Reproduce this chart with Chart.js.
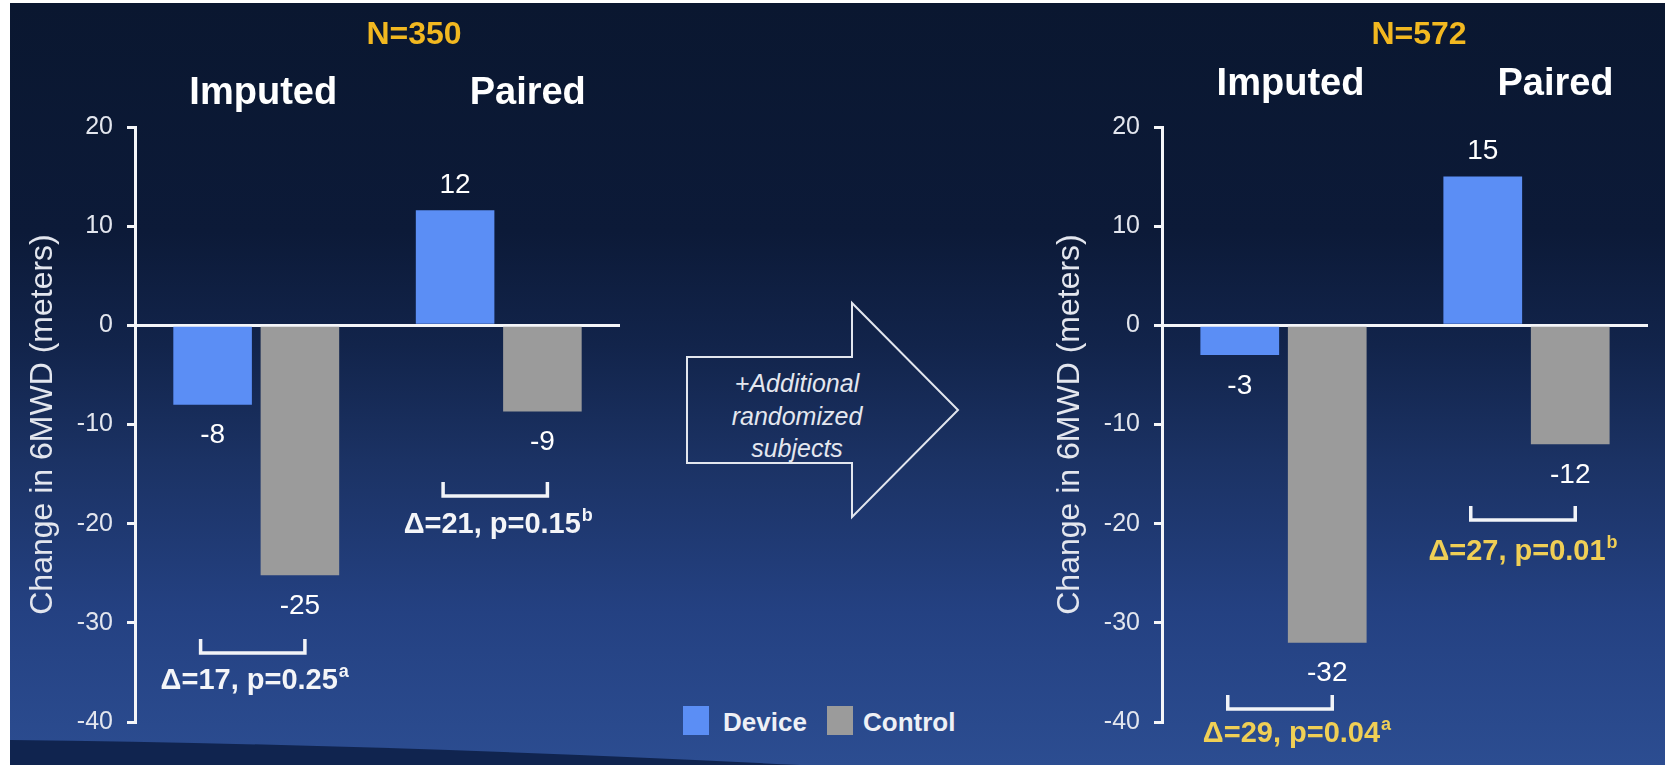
<!DOCTYPE html>
<html lang="en">
<head>
<meta charset="UTF-8">
<title>Change in 6MWD</title>
<script src="https://cdn.jsdelivr.net/npm/chart.js"></script>
<style>
  html, body { margin: 0; padding: 0; }
  body { width: 1665px; height: 765px; position: relative; overflow: hidden; background: #fff;
         font-family: "Liberation Sans", Arial, sans-serif; }
  #bg { position: absolute; left: 0; top: 0; }
  canvas { position: absolute; top: 0; }
  #leftChart { left: 0; }
  #rightChart { left: 1027px; }
  .arrowText { position: absolute; left: 697px; top: 367px; width: 200px; text-align: center;
               color: #e4e7ef; font-style: italic; font-size: 25px; line-height: 32.5px; }
  .swatch { position: absolute; top: 706px; width: 26px; height: 29px; }
  .legText { position: absolute; top: 707px; color: #eef0f6; font-weight: bold; font-size: 26px; line-height: 30px; }
</style>
</head>
<body>
<svg id="bg" width="1665" height="765">
  <defs>
    <linearGradient id="sky" x1="0" y1="0" x2="0" y2="1">
      <stop offset="0" stop-color="#0a1730"/>
      <stop offset="0.3" stop-color="#0c1a38"/>
      <stop offset="0.45" stop-color="#12244b"/>
      <stop offset="0.6" stop-color="#1b3264"/>
      <stop offset="0.8" stop-color="#244182"/>
      <stop offset="1" stop-color="#2c4d91"/>
    </linearGradient>
  </defs>
  <rect x="10" y="3" width="1655" height="762" fill="url(#sky)"/>
  <path d="M10,740 Q380,744 800,765 L10,765 Z" fill="#10244f"/>
  <polygon points="687,357 852,357 852,303 958,410 852,517 852,463 687,463"
           fill="none" stroke="#e2e6ee" stroke-width="2"/>
</svg>

<canvas id="leftChart" width="640" height="765"></canvas>
<canvas id="rightChart" width="638" height="765"></canvas>

<div class="arrowText">+Additional<br>randomized<br>subjects</div>

<div class="swatch" style="left:683px; background:#5b8ef5;"></div>
<div class="legText" style="left:723px;">Device</div>
<div class="swatch" style="left:827px; background:#9b9b9b;"></div>
<div class="legText" style="left:863px;">Control</div>

<script>
// groups on each panel
const categories = ['Imputed', 'Paired'];

// N=350 panel
const leftDevice = [-8, 11.6];
const leftControl = [-25.2, -8.7];
const leftDeviceLabels = ['-8', '12'];
const leftControlLabels = ['-25', '-9'];
const leftDiffs = ['Δ=17, p=0.25', 'Δ=21, p=0.15'];

// N=572 panel
const rightDevice = [-3, 15];
const rightControl = [-32, -12];
const rightDeviceLabels = ['-3', '15'];
const rightControlLabels = ['-32', '-12'];
const rightDiffs = ['Δ=29, p=0.04', 'Δ=27, p=0.01'];

const diffNotes = ['a', 'b'];
const yMin = -40, yMax = 20, yStep = 10;

const FONT = '"Liberation Sans", Arial, sans-serif';
const DEVICE_COLOR = '#5b8ef5';
const CONTROL_COLOR = '#9b9b9b';
const GOLD = '#f2b820';

// labels, headings, brackets and p-values drawn on top of the bars
const annotate = {
  id: 'annotate',
  afterDraw(chart, args, opts) {
    const ctx = chart.ctx;
    const xs = chart.scales.x;
    const dev = chart.getDatasetMeta(0).data;
    const ctl = chart.getDatasetMeta(1).data;
    ctx.save();
    ctx.textAlign = 'center';
    ctx.textBaseline = 'middle';

    // bar value labels
    ctx.fillStyle = '#ffffff';
    ctx.font = '28px ' + FONT;
    [dev, ctl].forEach((bars, d) => {
      const values = chart.data.datasets[d].data;
      bars.forEach((bar, i) => {
        const y = values[i] < 0 ? bar.y + 31 : bar.y - 25;
        ctx.fillText(opts.valueLabels[d][i], bar.x, y);
      });
    });

    // group headings
    ctx.font = 'bold 38px ' + FONT;
    chart.data.labels.forEach((lab, i) => {
      ctx.fillText(lab, xs.getPixelForValue(i) + opts.headingShift[i], opts.headingY);
    });

    // N= title
    ctx.fillStyle = GOLD;
    ctx.font = 'bold 32px ' + FONT;
    ctx.fillText(opts.nText, opts.nX, 35);

    // brackets and differences
    opts.brackets.forEach((b, i) => {
      const x0 = dev[i].x - 12, x1 = ctl[i].x + 5;
      ctx.strokeStyle = '#f2f4f8';
      ctx.lineWidth = 3.5;
      ctx.beginPath();
      ctx.moveTo(x0, b.top);
      ctx.lineTo(x0, b.top + 14);
      ctx.lineTo(x1, b.top + 14);
      ctx.lineTo(x1, b.top);
      ctx.stroke();

      const cx = (x0 + x1) / 2 + b.dx;
      ctx.font = 'bold 29px ' + FONT;
      const w1 = ctx.measureText(opts.diffs[i]).width;
      ctx.font = 'bold 18px ' + FONT;
      const w2 = ctx.measureText(diffNotes[i]).width;
      const start = cx - (w1 + w2 + 1) / 2;
      ctx.fillStyle = opts.diffColor;
      ctx.textAlign = 'left';
      ctx.font = 'bold 29px ' + FONT;
      ctx.fillText(opts.diffs[i], start, b.textY);
      ctx.font = 'bold 18px ' + FONT;
      ctx.fillText(diffNotes[i], start + w1 + 1, b.textY - 9);
      ctx.textAlign = 'center';
    });
    ctx.restore();
  }
};

function makeChart(id, device, control, opts, padRight) {
  return new Chart(document.getElementById(id), {
    type: 'bar',
    data: {
      labels: categories,
      datasets: [
        { label: 'Device', data: device, backgroundColor: DEVICE_COLOR },
        { label: 'Control', data: control, backgroundColor: CONTROL_COLOR }
      ]
    },
    options: {
      responsive: false,
      animation: false,
      layout: { padding: { top: 127, bottom: 43, left: 0, right: padRight } },
      datasets: { bar: { categoryPercentage: 0.72, barPercentage: 0.9 } },
      plugins: {
        legend: { display: false },
        tooltip: { enabled: false },
        annotate: opts
      },
      scales: {
        x: { display: false },
        y: {
          min: yMin, max: yMax,
          z: 1,
          afterFit: s => { s.width = 135; },
          ticks: { stepSize: yStep, color: '#e3e6ee', padding: 14, font: { family: FONT, size: 25 } },
          border: { display: true, color: '#f4f5f8', width: 3 },
          grid: {
            color: c => c.tick && c.tick.value === 0 ? '#f4f5f8' : 'rgba(0,0,0,0)',
            lineWidth: 3,
            tickColor: '#f4f5f8',
            tickLength: 8,
            tickWidth: 3
          },
          title: {
            display: true,
            text: 'Change in 6MWD (meters)',
            color: '#e3e6ee',
            padding: { top: 24, bottom: 0 },
            font: { family: FONT, size: 32 }
          }
        }
      }
    },
    plugins: [annotate]
  });
}

makeChart('leftChart', leftDevice, leftControl, {
  valueLabels: [leftDeviceLabels, leftControlLabels],
  headingShift: [7, 29], headingY: 94,
  nText: 'N=350', nX: 414,
  diffs: leftDiffs, diffColor: '#f4f5f8',
  brackets: [{ top: 639, textY: 681, dx: 2 }, { top: 482, textY: 525, dx: 3 }]
}, 20);

makeChart('rightChart', rightDevice, rightControl, {
  valueLabels: [rightDeviceLabels, rightControlLabels],
  headingShift: [7, 29], headingY: 85,
  nText: 'N=572', nX: 392,
  diffs: rightDiffs, diffColor: '#f0cf55',
  brackets: [{ top: 695, textY: 734, dx: 17 }, { top: 506, textY: 552, dx: 0 }]
}, 17);
</script>
</body>
</html>
